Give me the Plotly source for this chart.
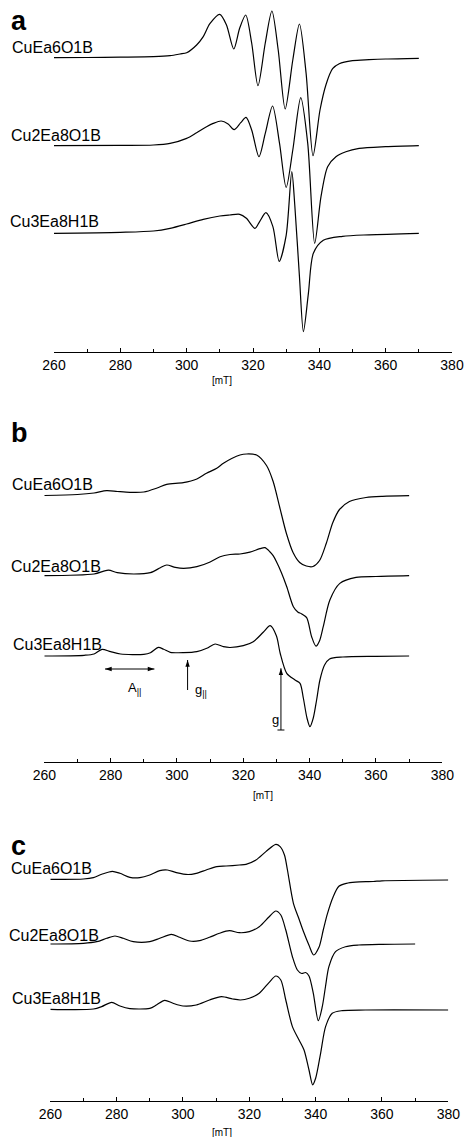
import plotly.graph_objects as go

# ---------------- data (field in mT, intensity in arbitrary units) ----------------
samples = ["CuEa6O1B", "Cu2Ea8O1B", "Cu3Ea8H1B"]

# panel a
a1_x = [260, 270, 280, 290, 295, 298, 300, 303, 305, 307, 310, 312, 314.2, 316, 317.8, 319.6, 321.5, 323.7, 325.7, 327.6, 329.7, 332, 334, 336, 338.1, 340.2, 342, 344, 346, 350, 355, 360, 370]
a1_y = [0, 0.2, 0.5, 1, 2, 3.7, 5, 12.7, 21, 34, 43.4, 32.7, 8.7, 29.7, 42.7, 14.7, -28, 14.7, 46.7, 7.7, -51.3, -2.3, 33.7, -15.3, -98, -52.3, -27, -11, -6, -3, -2, -1.3, -0.6]

a2_x = [260, 280, 290, 295, 300, 303, 306, 308, 310.4, 312.5, 314.3, 316.3, 317.9, 319.6, 321.8, 323.7, 325.9, 328, 330, 332, 334.4, 336.5, 338.6, 340.5, 342.5, 345, 348, 352, 360, 370]
a2_y = [0, 0.3, 0.7, 2.3, 7.3, 13, 19, 22.3, 24.7, 21.7, 16, 23, 28.3, 15.7, -11, 12.3, 39.7, 2.3, -41.7, -4.3, 48, 2.3, -97.7, -51, -21, -11, -6, -2.7, -1, 0]

a3_x = [260, 280, 290, 295, 300, 305, 310, 313, 316, 318, 320.6, 322, 323.9, 326, 327.9, 330, 331.7, 332.6, 334, 335.2, 336.7, 338.2, 341.2, 347, 355, 370]
a3_y = [0, 1, 2.3, 5, 9.3, 14, 17.3, 18.3, 19, 15, 5, 11.7, 20.6, 6.7, -28, -2, 61.7, 28, -43, -98.3, -60, -20, -7, -3, -1.5, 0]

# panel b
b1_x = [260, 270, 275, 278.8, 282, 285.8, 290, 294, 296.9, 301.9, 306, 308.9, 312, 314, 316.5, 319, 321, 324, 327, 329, 331, 333, 335, 337, 339, 341, 343, 345, 347, 349, 352, 357, 362, 370]
b1_y = [0, 1, 2.5, 4.8, 4, 3.2, 3.5, 7.5, 11.2, 12.8, 16.5, 22.2, 27.2, 32.2, 37, 40.5, 41.5, 40.5, 30, 14, -12, -38, -57, -67, -70.5, -71, -65, -48, -27, -14, -6, -2, -0.8, -0.2]

b2_x = [260, 275, 279.3, 282, 287, 292, 295, 296.9, 299.5, 302, 306, 310, 313, 316, 319, 322, 325, 326.5, 328, 329, 330, 331.5, 333.1, 335.1, 336.5, 337.5, 339.1, 340.6, 341.9, 343, 344.1, 346.1, 349.1, 354, 360, 370]
b2_y = [0, 1.7, 5.5, 3, 1.7, 3, 8, 10.7, 8.3, 7.3, 9, 13.7, 19, 21.2, 21.7, 23.5, 27, 28, 24, 20, 14, 3, -11, -31, -36.5, -38, -42, -61, -70.5, -65, -51, -24.3, -7.7, -1.7, -0.8, 0]

b3_x = [260, 272, 275, 277.4, 280, 283, 290, 292, 294.4, 296, 298, 302, 306, 309, 311.5, 314, 316, 320, 323, 326, 328.1, 330, 331.1, 333.1, 335.6, 337.1, 338.1, 339.2, 340.1, 341.1, 342.1, 343.1, 344.5, 346, 350, 360, 370]
b3_y = [0, 0.7, 2, 6.7, 4.3, 2, 1.7, 3.3, 8.7, 6.7, 3.7, 3.3, 4.3, 7.7, 12, 9.3, 8.5, 10.3, 14.3, 23.7, 30.3, 20, 3, -17.3, -24, -27.3, -42, -62, -70.7, -62, -44, -24, -9, -3, -1, -0.3, 0]

# panel c
c1_x = [260, 270, 273, 275.5, 278.7, 281, 284, 287, 290, 293, 295.3, 298, 301.5, 304, 307, 310.2, 313, 317, 319, 322, 325, 328, 329.3, 330.6, 331.5, 333.3, 334.8, 336.3, 338, 339.4, 341, 342.3, 343.5, 345.3, 347, 349.3, 352, 357.4, 360, 380]
c1_y = [0, 0.3, 1.7, 5, 8, 6, 2, 1.7, 4.3, 8.7, 9.3, 6.7, 4.8, 6, 9.3, 12.7, 13.3, 14.3, 15, 19.3, 27.7, 35, 32.7, 24.3, 9.3, -24, -38, -52, -66, -75.7, -68, -50.7, -35, -17.4, -7, -4, -2.8, -2.2, -1.5, -0.7]

c2_x = [260, 270, 274, 277, 279.5, 282, 285, 290, 293, 296.5, 299, 302, 305, 308, 311, 314, 317, 320, 323, 326, 328, 329.5, 331, 333, 334.5, 335.8, 337, 338, 339.3, 340.8, 342, 343, 344, 346, 349, 353, 360, 370]
c2_y = [0, 0.7, 2.3, 5.7, 8, 5.7, 2.3, 2.3, 5.7, 9.7, 6.7, 3, 3.3, 6.7, 10.7, 13.3, 11.3, 12.3, 17.3, 27.3, 33, 29, 14, -12.7, -26, -29.5, -28.5, -32, -49.3, -76.7, -62.7, -42, -22.7, -7.7, -2.7, -1, -0.3, 0]

c3_x = [260, 273, 275.5, 278.5, 281, 284, 290, 292, 294.5, 297, 300, 304, 308, 311.6, 315, 317.3, 320, 323, 326, 328, 329.5, 331, 333, 335, 336.5, 338, 339.1, 340, 341.5, 343, 345, 348, 355, 380]
c3_y = [0, 0.3, 2.7, 7, 3.3, 0.7, 1, 4.3, 9, 6, 3.3, 4.3, 9.3, 12.7, 10.3, 9.3, 11, 16, 27, 33.3, 29.3, 9.3, -17.3, -30.7, -40.7, -60.7, -75.5, -69, -44, -17.3, -4, -1.3, -0.7, -0.7]

# vertical stacking offsets of the spectra in each panel
offsets_a = [294.3, 206.3, 118.7]
offsets_b = [266.5, 186.3, 106.0]
offsets_c = [221.7, 157.0, 91.7]

tick_vals = [260, 280, 300, 320, 340, 360, 380]
tick_text = ["260", "280", "300", "320", "340", "360", "380"]
x_unit = "[mT]"
panel_letters = ["a", "b", "c"]

# ---------------- layout helpers ----------------
W, H = 464, 1137
FONT = "Liberation Sans, Arial, Helvetica, sans-serif"


def fx(p):
    return p / W


def fy(p):
    return 1 - p / H


fig = go.Figure()

panels = [
    ("x", "y", [(a1_x, a1_y), (a2_x, a2_y), (a3_x, a3_y)], offsets_a),
    ("x2", "y2", [(b1_x, b1_y), (b2_x, b2_y), (b3_x, b3_y)], offsets_b),
    ("x3", "y3", [(c1_x, c1_y), (c2_x, c2_y), (c3_x, c3_y)], offsets_c),
]

for xa, ya, series, offs in panels:
    for (sx, sy), off, name in zip(series, offs, samples):
        fig.add_trace(go.Scatter(
            x=sx, y=[v + off for v in sy], mode="lines", name=name,
            line=dict(color="black", width=1.2, shape="spline", smoothing=0.8),
            xaxis=xa, yaxis=ya, showlegend=False, hoverinfo="skip"))

# marker arrows in panel b (A||, g||, g-perpendicular), drawn as lines with arrow-head markers
arrow_segments = [
    ([278.3, 293.2], [93, 93], [-90, 90]),
    ([303.2, 303.2], [72, 102], [None, 0]),
    ([331.35, 331.35], [32, 93.7], [None, 0]),
]
for ax_, ay_, angs in arrow_segments:
    fig.add_trace(go.Scatter(x=ax_, y=ay_, mode="lines", line=dict(color="black", width=1),
                             xaxis="x2", yaxis="y2", showlegend=False, hoverinfo="skip"))
    hx = [x for x, a in zip(ax_, angs) if a is not None]
    hy = [y for y, a in zip(ay_, angs) if a is not None]
    ha = [a for a in angs if a is not None]
    fig.add_trace(go.Scatter(x=hx, y=hy, mode="markers",
                             marker=dict(symbol="arrow", size=7, angle=ha, color="black",
                                         line=dict(width=0)),
                             xaxis="x2", yaxis="y2", showlegend=False, hoverinfo="skip"))

# axis geometry (pixels in the 464x1137 page)
x_dom = [(54, 452), (44.3, 442.3), (50.3, 448.3)]
y_axis_px = [352, 762, 1101]
y_top_px = [0, 400, 810]

common_x = dict(
    range=[260, 380], tickmode="array", tickvals=tick_vals, ticktext=tick_text,
    ticks="inside", ticklen=3.5, tickwidth=1, tickcolor="black",
    showline=True, linecolor="black", linewidth=1.3, mirror=False,
    showgrid=False, zeroline=False, automargin=False,
    tickfont=dict(family=FONT, size=14, color="black"),
    minor=dict(ticks="inside", ticklen=2.5, tickwidth=1, tickcolor="black", dtick=10, tick0=260, showgrid=False),
    fixedrange=True,
)

names_x = ["xaxis", "xaxis2", "xaxis3"]
names_y = ["yaxis", "yaxis2", "yaxis3"]
anchors_y = ["y", "y2", "y3"]
anchors_x = ["x", "x2", "x3"]
lay = {}
for i in range(3):
    d = dict(common_x)
    d["domain"] = [fx(x_dom[i][0]), fx(x_dom[i][1])]
    d["anchor"] = anchors_y[i]
    lay[names_x[i]] = d
    lay[names_y[i]] = dict(
        domain=[fy(y_axis_px[i]), fy(y_top_px[i])],
        range=[0, y_axis_px[i] - y_top_px[i]],
        visible=False, fixedrange=True, anchor=anchors_x[i], automargin=False)

fig.update_layout(
    template="none",
    width=W, height=H, margin=dict(l=0, r=0, t=0, b=0, pad=0, autoexpand=False),
    paper_bgcolor="white", plot_bgcolor="rgba(0,0,0,0)",
    font=dict(family=FONT, color="black"),
    showlegend=False, hovermode=False, **lay)

ann = []
# panel letters
letter_pos = [(8.5, 21), (8.5, 433), (8.5, 846)]
for t, (px, py) in zip(panel_letters, letter_pos):
    ann.append(dict(text="<b>%s</b>" % t, x=fx(px), y=fy(py), xref="paper", yref="paper",
                    xanchor="left", yanchor="middle", showarrow=False,
                    font=dict(family=FONT, size=27, color="black")))

# sample labels
label_pos = [
    [(10, 47), (9, 135), (8, 222)],
    [(10, 484), (8.5, 566), (10.5, 644)],
    [(8.5, 868.5), (7, 935), (10, 998)],
]
for row in label_pos:
    for name, (px, py) in zip(samples, row):
        ann.append(dict(text=name, x=fx(px), y=fy(py), xref="paper", yref="paper",
                        xanchor="left", yanchor="middle", showarrow=False,
                        font=dict(family=FONT, size=16, color="black")))

# unit labels
unit_pos = [(221.7, 381), (263, 795.3), (221.7, 1132)]
for px, py in unit_pos:
    ann.append(dict(text=x_unit, x=fx(px), y=fy(py), xref="paper", yref="paper",
                    xanchor="center", yanchor="middle", showarrow=False,
                    font=dict(family=FONT, size=10, color="black")))

# labels of the panel b markers
ann.append(dict(text="A<sub>||</sub>", x=fx(125.5), y=fy(688), xref="paper", yref="paper",
                xanchor="left", yanchor="middle", showarrow=False,
                font=dict(family=FONT, size=13, color="black")))
ann.append(dict(text="g<sub>||</sub>", x=fx(192.5), y=fy(690), xref="paper", yref="paper",
                xanchor="left", yanchor="middle", showarrow=False,
                font=dict(family=FONT, size=13, color="black")))
ann.append(dict(text="g", x=fx(269.5), y=fy(719), xref="paper", yref="paper",
                xanchor="left", yanchor="middle", showarrow=False,
                font=dict(family=FONT, size=13, color="black")))
fig.update_layout(annotations=ann)

fig.add_shape(type="line", xref="x2", yref="y2", x0=330.3, x1=332.4, y0=32, y1=32,
              line=dict(color="black", width=1))

# remove the browser's default page margin so the figure fills the window exactly
fig.write_html("out.html", config={"displayModeBar": False},
               post_script="document.body.style.margin='0';")
